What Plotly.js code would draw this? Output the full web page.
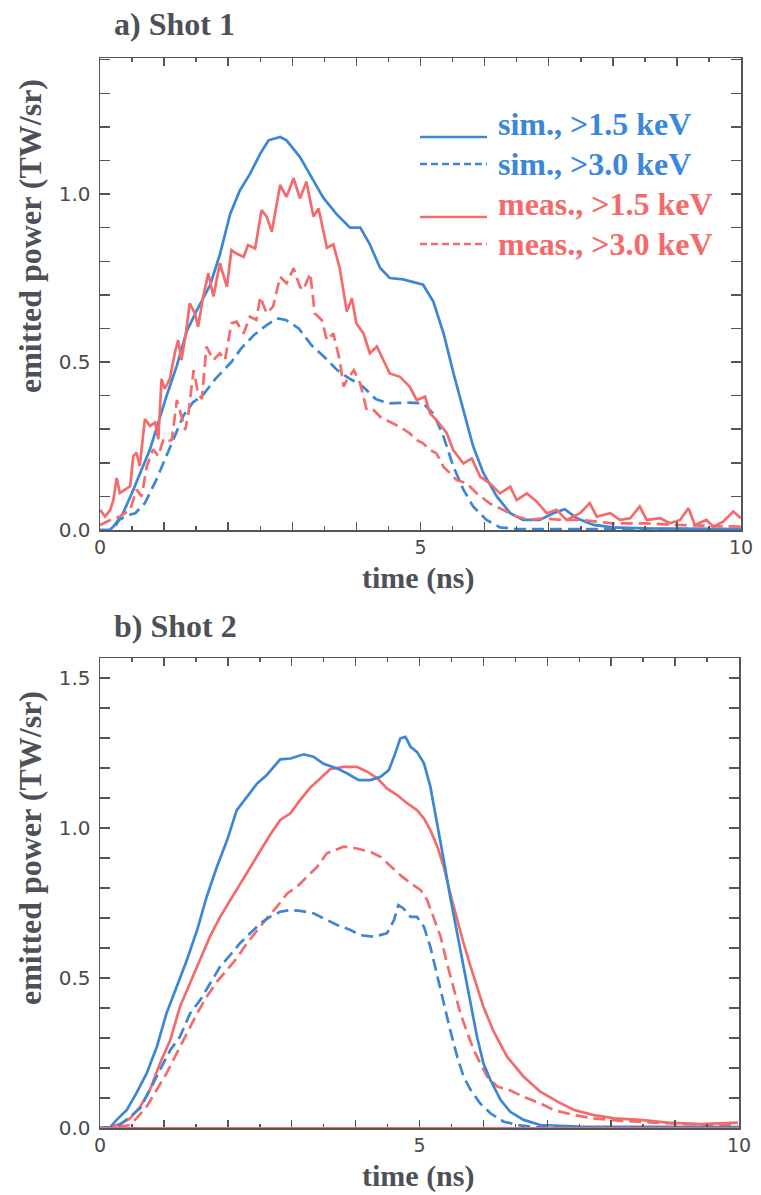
<!DOCTYPE html>
<html>
<head>
<meta charset="utf-8">
<script src="https://cdn.plot.ly/plotly-3.0.1.min.js"></script>
<style>
  html, body { margin: 0; padding: 0; background: #ffffff; }
  #chart { width: 761px; height: 1195px; }
</style>
</head>
<body>
<div id="chart"></div>
<script>
// ---------- Shot 1: emitted X-ray power (TW/sr) vs time (ns) ----------
const shot1SimSoftT = [0, 0.15, 0.21, 0.36, 0.52, 0.78, 1.04, 1.2, 1.35, 1.5, 1.72, 1.87, 2.03, 2.18, 2.34, 2.5, 2.63, 2.72, 2.81, 2.91, 3.12, 3.33, 3.48, 3.69, 3.9, 4.06, 4.21, 4.37, 4.52, 4.73, 5.04, 5.2, 5.36, 5.51, 5.67, 5.82, 5.98, 6.19, 6.4, 6.6, 6.86, 7.07, 7.25, 7.44, 7.7, 8.0, 8.5, 9.0, 9.5, 10];
const shot1SimSoftP = [0, 0, 0.01, 0.05, 0.12, 0.24, 0.4, 0.49, 0.59, 0.65, 0.73, 0.82, 0.94, 1.01, 1.06, 1.12, 1.16, 1.165, 1.17, 1.16, 1.11, 1.04, 0.99, 0.94, 0.9, 0.9, 0.85, 0.78, 0.75, 0.746, 0.73, 0.68, 0.585, 0.47, 0.36, 0.25, 0.17, 0.1, 0.05, 0.03, 0.03, 0.05, 0.062, 0.035, 0.015, 0.008, 0.005, 0.004, 0.003, 0.003];

const shot1SimHardT = [0, 0.2, 0.3, 0.45, 0.55, 0.7, 0.88, 1.1, 1.3, 1.45, 1.6, 1.8, 2.05, 2.2, 2.4, 2.6, 2.76, 2.9, 3.1, 3.3, 3.5, 3.7, 3.85, 4.1, 4.3, 4.5, 4.8, 5.04, 5.2, 5.36, 5.51, 5.67, 5.82, 6.03, 6.24, 6.5, 7, 8, 9, 10];
const shot1SimHardP = [0, 0, 0.03, 0.045, 0.05, 0.08, 0.15, 0.25, 0.34, 0.38, 0.4, 0.45, 0.5, 0.54, 0.58, 0.61, 0.63, 0.625, 0.6, 0.55, 0.515, 0.476, 0.456, 0.427, 0.39, 0.377, 0.379, 0.377, 0.347, 0.278, 0.19, 0.12, 0.07, 0.03, 0.008, 0.003, 0.003, 0.003, 0.003, 0.003];

const shot1MeasSoftT = [0, 0.08, 0.16, 0.21, 0.26, 0.31, 0.39, 0.47, 0.52, 0.57, 0.62, 0.7, 0.78, 0.86, 0.91, 0.96, 1.01, 1.09, 1.17, 1.22, 1.27, 1.34, 1.4, 1.48, 1.53, 1.61, 1.69, 1.77, 1.87, 1.98, 2.05, 2.13, 2.24, 2.31, 2.42, 2.52, 2.6, 2.68, 2.81, 2.91, 3.02, 3.12, 3.22, 3.33, 3.41, 3.54, 3.64, 3.74, 3.85, 3.93, 4.0, 4.11, 4.21, 4.32, 4.42, 4.52, 4.68, 4.83, 4.94, 5.07, 5.15, 5.25, 5.41, 5.51, 5.67, 5.8, 5.93, 6.08, 6.24, 6.4, 6.5, 6.66, 6.81, 6.97, 7.12, 7.28, 7.49, 7.64, 7.75, 7.96, 8.11, 8.27, 8.42, 8.53, 8.74, 8.89, 9.05, 9.18, 9.28, 9.46, 9.57, 9.72, 9.88, 10];
const shot1MeasSoftP = [0.06, 0.04, 0.06, 0.09, 0.155, 0.11, 0.12, 0.13, 0.22, 0.23, 0.19, 0.33, 0.31, 0.32, 0.27, 0.45, 0.42, 0.45, 0.53, 0.565, 0.506, 0.585, 0.675, 0.645, 0.605, 0.695, 0.764, 0.695, 0.794, 0.724, 0.833, 0.823, 0.813, 0.848, 0.838, 0.952, 0.933, 0.888, 1.027, 0.992, 1.047, 0.987, 1.037, 0.933, 0.957, 0.84, 0.85, 0.78, 0.65, 0.69, 0.615, 0.585, 0.526, 0.546, 0.506, 0.466, 0.456, 0.427, 0.387, 0.397, 0.347, 0.327, 0.288, 0.238, 0.198, 0.213, 0.159, 0.139, 0.109, 0.129, 0.089, 0.109, 0.085, 0.05, 0.06, 0.03, 0.05, 0.08, 0.04, 0.05, 0.03, 0.035, 0.07, 0.03, 0.035, 0.02, 0.03, 0.065, 0.015, 0.03, 0.01, 0.025, 0.055, 0.035];

const shot1MeasHardT = [0, 0.16, 0.31, 0.47, 0.57, 0.65, 0.73, 0.83, 0.91, 0.99, 1.04, 1.12, 1.2, 1.27, 1.33, 1.38, 1.46, 1.53, 1.59, 1.66, 1.77, 1.87, 1.95, 2.05, 2.13, 2.24, 2.34, 2.44, 2.5, 2.6, 2.7, 2.81, 2.91, 3.02, 3.12, 3.17, 3.28, 3.35, 3.46, 3.54, 3.64, 3.74, 3.8, 3.85, 3.96, 4.06, 4.16, 4.27, 4.37, 4.52, 4.68, 4.83, 4.94, 5.04, 5.15, 5.25, 5.36, 5.46, 5.56, 5.72, 5.88, 6.08, 6.29, 6.5, 6.71, 6.9, 7.2, 7.5, 8.0, 8.5, 9.0, 9.5, 10];
const shot1MeasHardP = [0.015, 0.03, 0.04, 0.06, 0.12, 0.1, 0.19, 0.24, 0.22, 0.27, 0.263, 0.268, 0.387, 0.337, 0.298, 0.347, 0.476, 0.407, 0.39, 0.546, 0.506, 0.526, 0.506, 0.615, 0.62, 0.585, 0.635, 0.625, 0.694, 0.645, 0.665, 0.754, 0.734, 0.779, 0.724, 0.714, 0.764, 0.645, 0.625, 0.565, 0.585, 0.506, 0.427, 0.446, 0.476, 0.436, 0.357, 0.357, 0.337, 0.322, 0.307, 0.288, 0.268, 0.258, 0.238, 0.228, 0.188, 0.169, 0.149, 0.139, 0.109, 0.079, 0.06, 0.04, 0.03, 0.035, 0.03, 0.03, 0.02, 0.02, 0.015, 0.012, 0.01];

// ---------- Shot 2 ----------
const shot2SimSoftT = [0, 0.16, 0.26, 0.42, 0.57, 0.73, 0.89, 1.04, 1.2, 1.36, 1.52, 1.67, 1.83, 1.99, 2.14, 2.3, 2.46, 2.61, 2.82, 2.98, 3.19, 3.34, 3.5, 3.71, 3.87, 4.05, 4.23, 4.39, 4.52, 4.62, 4.7, 4.78, 4.86, 4.96, 5.07, 5.17, 5.28, 5.38, 5.48, 5.59, 5.69, 5.8, 5.9, 6.0, 6.11, 6.27, 6.42, 6.63, 6.89, 7.5, 8.5, 10];
const shot2SimSoftP = [0, 0.003, 0.027, 0.06, 0.116, 0.182, 0.271, 0.382, 0.471, 0.56, 0.66, 0.771, 0.871, 0.96, 1.06, 1.104, 1.149, 1.177, 1.229, 1.232, 1.246, 1.238, 1.214, 1.199, 1.182, 1.16, 1.16, 1.171, 1.193, 1.249, 1.299, 1.304, 1.271, 1.254, 1.216, 1.138, 1.016, 0.893, 0.771, 0.649, 0.527, 0.404, 0.304, 0.216, 0.16, 0.093, 0.054, 0.027, 0.01, 0.005, 0.004, 0.003];

const shot2SimHardT = [0, 0.16, 0.31, 0.47, 0.63, 0.78, 0.94, 1.1, 1.25, 1.41, 1.57, 1.72, 1.88, 2.04, 2.19, 2.35, 2.51, 2.66, 2.82, 2.98, 3.13, 3.34, 3.5, 3.71, 3.92, 4.07, 4.28, 4.49, 4.6, 4.67, 4.75, 4.86, 4.96, 5.07, 5.17, 5.28, 5.38, 5.48, 5.59, 5.69, 5.8, 5.95, 6.11, 6.32, 6.53, 6.84, 7.5, 8.5, 10];
const shot2SimHardP = [0, 0.002, 0.01, 0.038, 0.066, 0.127, 0.193, 0.26, 0.304, 0.382, 0.427, 0.482, 0.538, 0.577, 0.616, 0.649, 0.682, 0.704, 0.721, 0.727, 0.724, 0.716, 0.699, 0.677, 0.66, 0.643, 0.638, 0.649, 0.693, 0.743, 0.732, 0.704, 0.704, 0.671, 0.604, 0.504, 0.416, 0.327, 0.238, 0.171, 0.127, 0.082, 0.049, 0.021, 0.01, 0.002, 0.002, 0.002, 0.002];

const shot2MeasSoftT = [0, 0.16, 0.31, 0.47, 0.63, 0.78, 0.94, 1.1, 1.25, 1.41, 1.57, 1.72, 1.88, 2.04, 2.19, 2.35, 2.51, 2.66, 2.82, 2.98, 3.13, 3.29, 3.45, 3.6, 3.81, 4.02, 4.18, 4.34, 4.49, 4.65, 4.81, 4.96, 5.07, 5.17, 5.28, 5.38, 5.48, 5.59, 5.69, 5.8, 5.9, 6.0, 6.16, 6.37, 6.63, 6.89, 7.16, 7.42, 7.73, 8.05, 8.46, 8.88, 9.4, 9.98];
const shot2MeasSoftP = [0, 0.002, 0.013, 0.032, 0.071, 0.127, 0.216, 0.293, 0.404, 0.482, 0.56, 0.638, 0.704, 0.76, 0.816, 0.871, 0.927, 0.977, 1.027, 1.049, 1.093, 1.135, 1.166, 1.196, 1.204, 1.204, 1.188, 1.166, 1.132, 1.11, 1.082, 1.06, 1.032, 0.993, 0.938, 0.871, 0.782, 0.693, 0.616, 0.538, 0.471, 0.404, 0.322, 0.238, 0.171, 0.121, 0.088, 0.06, 0.043, 0.032, 0.027, 0.018, 0.013, 0.018];

const shot2MeasHardT = [0, 0.31, 0.47, 0.57, 0.73, 0.89, 1.04, 1.2, 1.36, 1.52, 1.67, 1.83, 1.99, 2.14, 2.3, 2.46, 2.61, 2.77, 2.93, 3.08, 3.24, 3.4, 3.55, 3.81, 4.02, 4.23, 4.39, 4.55, 4.7, 4.86, 5.02, 5.12, 5.22, 5.33, 5.43, 5.54, 5.64, 5.75, 5.85, 5.95, 6.06, 6.22, 6.42, 6.63, 6.89, 7.1, 7.42, 7.73, 8.15, 8.67, 9.19, 9.98];
const shot2MeasHardP = [0, 0.004, 0.01, 0.032, 0.071, 0.127, 0.182, 0.249, 0.316, 0.382, 0.438, 0.488, 0.527, 0.566, 0.616, 0.66, 0.699, 0.738, 0.782, 0.804, 0.838, 0.871, 0.916, 0.938, 0.932, 0.921, 0.904, 0.871, 0.843, 0.816, 0.793, 0.76, 0.704, 0.638, 0.549, 0.46, 0.382, 0.316, 0.26, 0.216, 0.171, 0.138, 0.125, 0.104, 0.082, 0.06, 0.043, 0.032, 0.024, 0.018, 0.013, 0.01];

// Axis tick labels
const yTicksA = [0, 0.5, 1.0];
const yTickTextA = ['0.0', '0.5', '1.0'];
const yTicksB = [0, 0.5, 1.0, 1.5];
const yTickTextB = ['0.0', '0.5', '1.0', '1.5'];
const xTicks = [0, 1, 2, 3, 4, 5, 6, 7, 8, 9, 10];
const xTickText = ['0', '', '', '', '', '5', '', '', '', '', '10'];

// Legend entries (panel a)
const legendLabels = ['sim., >1.5 keV', 'sim., >3.0 keV', 'meas., >1.5 keV', 'meas., >3.0 keV'];

const BLUE = '#3b87d6';
const RED = '#f46b6b';
const BLUE_TXT = '#3a88da';
const RED_TXT = '#f46a6a';
const AXIS = '#555555';
const TITLE_GRAY = '#4e5058';
const SERIF = '"Liberation Serif", "Times New Roman", serif';
const SANS = '"DejaVu Sans", Arial, sans-serif';
const W = 761, H = 1195;

const DASH = '12px,6px';
const LW = 2.7;

function line(x, y, color, dash, xa, ya) {
  return { x: x, y: y, type: 'scatter', mode: 'lines', xaxis: xa, yaxis: ya,
           line: { color: color, width: LW, dash: dash }, showlegend: false, hoverinfo: 'skip' };
}

const data = [
  line(shot1SimSoftT, shot1SimSoftP, BLUE, 'solid', 'x', 'y'),
  line(shot1SimHardT, shot1SimHardP, BLUE, DASH, 'x', 'y'),
  line(shot1MeasSoftT, shot1MeasSoftP, RED, 'solid', 'x', 'y'),
  line(shot1MeasHardT, shot1MeasHardP, RED, DASH, 'x', 'y'),
  line(shot2MeasSoftT, shot2MeasSoftP, RED, 'solid', 'x2', 'y2'),
  line(shot2MeasHardT, shot2MeasHardP, RED, DASH, 'x2', 'y2'),
  line(shot2SimSoftT, shot2SimSoftP, BLUE, 'solid', 'x2', 'y2'),
  line(shot2SimHardT, shot2SimHardP, BLUE, DASH, 'x2', 'y2')
];

// pixel helpers for paper coordinates
const px = v => v / W;
const py = v => 1 - v / H;

function xAxis(domain, anchor) {
  return {
    domain: domain, anchor: anchor, range: [0, 10],
    tickmode: 'array', tickvals: xTicks, ticktext: xTickText,
    ticks: 'inside', ticklen: 8, tickwidth: 1.5, tickcolor: AXIS,
    minor: { tick0: 0, dtick: 0.5, ticks: 'inside', ticklen: 4, tickwidth: 1.5, tickcolor: AXIS },
    showline: true, linecolor: AXIS, linewidth: 1.5, mirror: 'ticks',
    showgrid: false, zeroline: false,
    tickfont: { family: SANS, size: 19, color: '#4a4a4a' },
    fixedrange: true
  };
}
function yAxis(domain, anchor, range, vals, text) {
  return {
    domain: domain, anchor: anchor, range: range,
    tickmode: 'array', tickvals: vals, ticktext: text,
    ticks: 'inside', ticklen: 10, tickwidth: 1.5, tickcolor: AXIS,
    minor: { tick0: 0, dtick: 0.1, ticks: 'inside', ticklen: 10, tickwidth: 1.5, tickcolor: AXIS },
    showline: true, linecolor: AXIS, linewidth: 1.5, mirror: 'ticks',
    showgrid: false, zeroline: false, ticklabelstandoff: 4,
    tickfont: { family: SANS, size: 20, color: '#4a4a4a' },
    fixedrange: true
  };
}

const titleFont = { family: SERIF, size: 32, color: TITLE_GRAY, weight: 'bold' };
const axisTitleFont = { family: SERIF, size: 30, color: TITLE_GRAY, weight: 'bold' };

const annotations = [
  { text: 'a) Shot 1', xref: 'paper', yref: 'paper', x: px(112), y: py(24), xanchor: 'left', yanchor: 'middle', showarrow: false, font: titleFont },
  { text: 'b) Shot 2', xref: 'paper', yref: 'paper', x: px(112), y: py(626), xanchor: 'left', yanchor: 'middle', showarrow: false, font: titleFont },
  { text: 'emitted power (TW/sr)', xref: 'paper', yref: 'paper', x: px(30), y: py(236), textangle: -90, xanchor: 'center', yanchor: 'middle', showarrow: false, font: titleFont },
  { text: 'emitted power (TW/sr)', xref: 'paper', yref: 'paper', x: px(30), y: py(848), textangle: -90, xanchor: 'center', yanchor: 'middle', showarrow: false, font: titleFont },
  { text: 'time (ns)', xref: 'paper', yref: 'paper', x: px(418), y: py(578), xanchor: 'center', yanchor: 'middle', showarrow: false, font: axisTitleFont },
  { text: 'time (ns)', xref: 'paper', yref: 'paper', x: px(418), y: py(1176), xanchor: 'center', yanchor: 'middle', showarrow: false, font: axisTitleFont }
];

// legend: text rows and line samples
const legendRowsY = [124, 164, 204, 244];
const legendColors = [BLUE_TXT, BLUE_TXT, RED_TXT, RED_TXT];
const legendLineColors = [BLUE, BLUE, RED, RED];
const legendDashed = [false, true, false, true];
const shapes = [];
legendLabels.forEach((lab, i) => {
  annotations.push({ text: lab, xref: 'paper', yref: 'paper', x: px(496), y: py(legendRowsY[i]),
    xanchor: 'left', yanchor: 'middle', showarrow: false,
    font: { family: SERIF, size: 32, color: legendColors[i], weight: 'bold' } });
  const ly = legendDashed[i] ? legendRowsY[i] : legendRowsY[i] + 13;
  shapes.push({ type: 'line', xref: 'paper', yref: 'paper', x0: px(420), x1: px(487), y0: py(ly), y1: py(ly),
    line: { color: legendLineColors[i], width: 2.7, dash: legendDashed[i] ? '7px,4px' : 'solid' } });
});
// red baseline along the time axis of panel b
shapes.push({ type: 'line', xref: 'x2', yref: 'y2', x0: 0, x1: 10, y0: 0, y1: 0, layer: 'above',
  line: { color: RED, width: 2 } });

const layout = {
  width: W, height: H,
  margin: { l: 0, r: 0, t: 0, b: 0 },
  paper_bgcolor: '#ffffff', plot_bgcolor: '#ffffff',
  showlegend: false,
  xaxis: xAxis([px(100), px(741)], 'y'),
  yaxis: yAxis([py(530), py(58)], 'x', [0, 1.405], yTicksA, yTickTextA),
  xaxis2: xAxis([px(100), px(739)], 'y2'),
  yaxis2: yAxis([py(1128), py(658)], 'x2', [0, 1.567], yTicksB, yTickTextB),
  annotations: annotations,
  shapes: shapes
};

Plotly.newPlot('chart', data, layout, { displayModeBar: false, staticPlot: true });
</script>
</body>
</html>
